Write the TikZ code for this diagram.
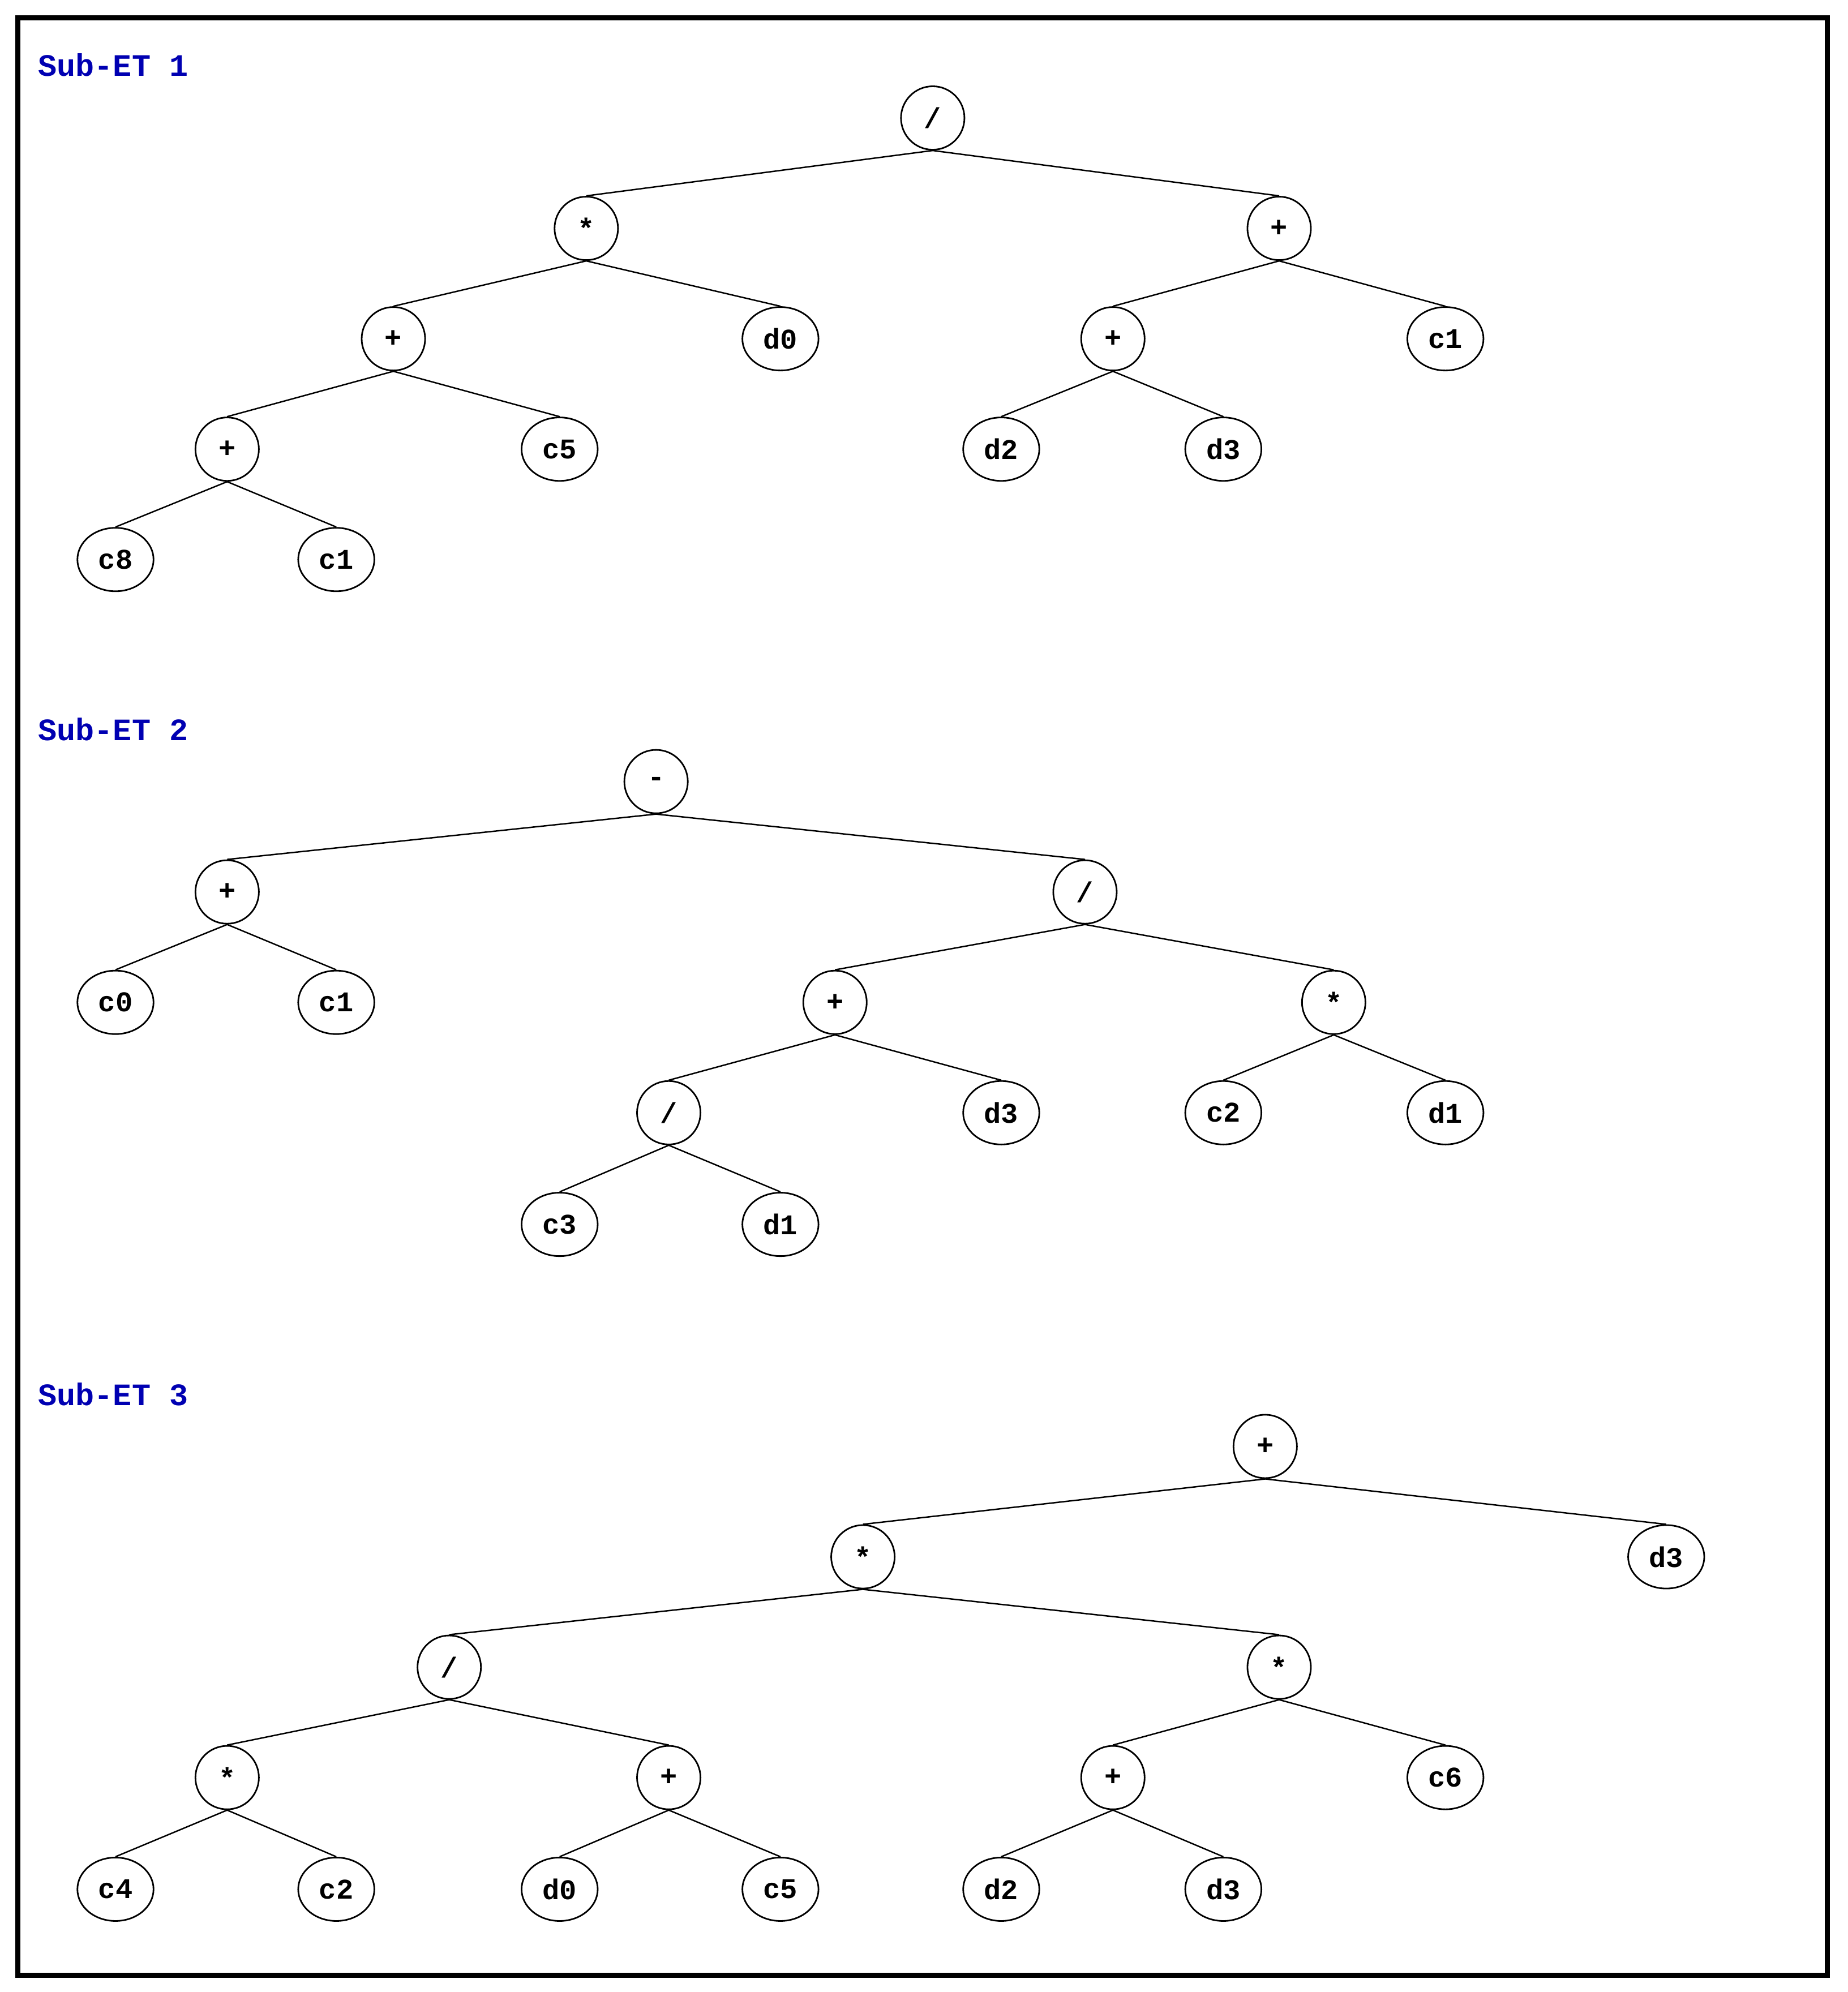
\documentclass[tikz,border=0pt]{standalone}
\usepackage{fontspec}
\setmonofont{Liberation Mono}
\usetikzlibrary{shapes.geometric}
\begin{document}
\begin{tikzpicture}[x=0.05cm,y=-0.05cm,
  every node/.style={font=\ttfamily\bfseries\fontsize{32}{38}\selectfont},
  op/.style={draw,circle,line width=1.8pt,minimum size=2.5cm,inner sep=0pt},
  leaf/.style={draw,ellipse,line width=1.8pt,minimum width=3cm,minimum height=2.5cm,inner sep=0pt},
  ttl/.style={anchor=west,inner sep=0pt,text=blue!70!black,font=\ttfamily\bfseries\fontsize{35}{40}\selectfont},
  edge/.style={line width=1.6pt}]
\useasboundingbox (0,0) rectangle (1456,1570);
\draw[line width=0.2cm] (14,14) rectangle (1440,1557);
% Sub-ET 1
\node[ttl] (t1) at (30,51) {Sub-ET 1};
\node[op] (a1) at (735,93) {/};
\node[op] (a2) at (462,180) {*};
\node[op] (a3) at (1008,180) {+};
\node[op] (a4) at (310,267) {+};
\node[leaf] (a5) at (615,267) {d0};
\node[op] (a6) at (877,267) {+};
\node[leaf] (a7) at (1139,267) {c1};
\node[op] (a8) at (179,354) {+};
\node[leaf] (a9) at (441,354) {c5};
\node[leaf] (a10) at (789,354) {d2};
\node[leaf] (a11) at (964,354) {d3};
\node[leaf] (a12) at (91,441) {c8};
\node[leaf] (a13) at (265,441) {c1};
\foreach \p/\c in {a1/a2,a1/a3,a2/a4,a2/a5,a3/a6,a3/a7,a4/a8,a4/a9,a6/a10,a6/a11,a8/a12,a8/a13}
  \draw[edge] (\p.south) -- (\c.north);
% Sub-ET 2
\node[ttl] (t2) at (30,575) {Sub-ET 2};
\node[op] (b1) at (517,616) {-};
\node[op] (b2) at (179,703) {+};
\node[op] (b3) at (855,703) {/};
\node[leaf] (b4) at (91,790) {c0};
\node[leaf] (b5) at (265,790) {c1};
\node[op] (b6) at (658,790) {+};
\node[op] (b7) at (1051,790) {*};
\node[op] (b8) at (527,877) {/};
\node[leaf] (b9) at (789,877) {d3};
\node[leaf] (b10) at (964,877) {c2};
\node[leaf] (b11) at (1139,877) {d1};
\node[leaf] (b12) at (441,965) {c3};
\node[leaf] (b13) at (615,965) {d1};
\foreach \p/\c in {b1/b2,b1/b3,b2/b4,b2/b5,b3/b6,b3/b7,b6/b8,b6/b9,b7/b10,b7/b11,b8/b12,b8/b13}
  \draw[edge] (\p.south) -- (\c.north);
% Sub-ET 3
\node[ttl] (t3) at (30,1099) {Sub-ET 3};
\node[op] (e1) at (997,1140) {+};
\node[op] (e2) at (680,1227) {*};
\node[leaf] (e3) at (1313,1227) {d3};
\node[op] (e4) at (354,1314) {/};
\node[op] (e5) at (1008,1314) {*};
\node[op] (e6) at (179,1401) {*};
\node[op] (e7) at (527,1401) {+};
\node[op] (e8) at (877,1401) {+};
\node[leaf] (e9) at (1139,1401) {c6};
\node[leaf] (e10) at (91,1489) {c4};
\node[leaf] (e11) at (265,1489) {c2};
\node[leaf] (e12) at (441,1489) {d0};
\node[leaf] (e13) at (615,1489) {c5};
\node[leaf] (e14) at (789,1489) {d2};
\node[leaf] (e15) at (964,1489) {d3};
\foreach \p/\c in {e1/e2,e1/e3,e2/e4,e2/e5,e4/e6,e4/e7,e5/e8,e5/e9,e6/e10,e6/e11,e7/e12,e7/e13,e8/e14,e8/e15}
  \draw[edge] (\p.south) -- (\c.north);
\end{tikzpicture}
\end{document}
